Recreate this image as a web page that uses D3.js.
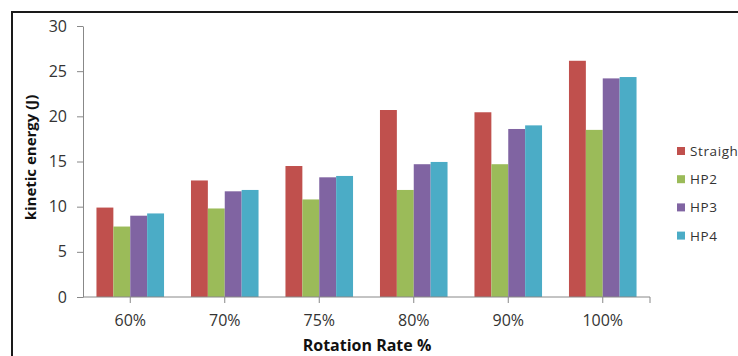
<!DOCTYPE html>
<html>
<head>
<meta charset="utf-8">
<script src="https://cdn.jsdelivr.net/npm/d3@7"></script>
<style>
  html, body { margin: 0; padding: 0; background: #fff; overflow: hidden; }
  svg { display: block; font-family: "Open Sans", "Liberation Sans", sans-serif; }
</style>
</head>
<body>
<svg id="chart" width="738" height="356"></svg>
<script>
// Kinetic energy per rotation rate, one bar per blade type
const categories = ["60%", "70%", "75%", "80%", "90%", "100%"];
const seriesNames = ["Straight", "HP2", "HP3", "HP4"];
const straight = [9.9, 12.9, 14.5, 20.7, 20.45, 26.15];
const hp2 = [7.8, 9.8, 10.8, 11.85, 14.7, 18.5];
const hp3 = [9.0, 11.7, 13.25, 14.7, 18.6, 24.2];
const hp4 = [9.25, 11.85, 13.4, 14.95, 19.0, 24.35];
const yTicks = [0, 5, 10, 15, 20, 25, 30];
const colors = ["#C0504D", "#9BBB59", "#8064A2", "#4BACC6"];

const seriesValues = [straight, hp2, hp3, hp4];
const rows = categories.map((c, i) => ({
  cat: c,
  vals: seriesNames.map((s, j) => ({ name: s, value: seriesValues[j][i], color: colors[j] }))
}));

const svg = d3.select("#chart");
const plot = { left: 83, right: 650, top: 26, bottom: 297 };

// outer frame
svg.append("rect")
  .attr("x", 12).attr("y", 12)
  .attr("width", 760).attr("height", 400)
  .attr("fill", "none").attr("stroke", "#1a1a1a").attr("stroke-width", 2);

const x0 = d3.scaleBand().domain(categories).range([plot.left, plot.right]).paddingInner(0.285).paddingOuter(0.1425);
const x1 = d3.scaleBand().domain(seriesNames).range([0, x0.bandwidth()]);
const y = d3.scaleLinear().domain([0, 30]).range([plot.bottom, plot.top]);

// bars
const g = svg.append("g");
g.selectAll("g.grp").data(rows).join("g")
  .attr("class", "grp")
  .attr("transform", d => `translate(${x0(d.cat)},0)`)
  .selectAll("rect").data(d => d.vals).join("rect")
  .attr("x", d => x1(d.name))
  .attr("width", x1.bandwidth())
  .attr("y", d => y(d.value))
  .attr("height", d => y(0) - y(d.value))
  .attr("fill", d => d.color);

// y axis
const yAxis = svg.append("g")
  .attr("transform", `translate(${plot.left},0)`)
  .call(d3.axisLeft(y).tickValues(yTicks).tickSize(6).tickPadding(10).tickSizeOuter(0));
yAxis.select(".domain").attr("stroke", "#888");
yAxis.selectAll(".tick line").attr("stroke", "#888");
yAxis.selectAll(".tick text").attr("fill", "#333").style("font-size", "16px")
  .style("font-family", "'Open Sans', sans-serif");

// x axis: ticks under each category plus the closing tick
const xCenters = categories.map(c => x0(c) + x0.bandwidth() / 2);
const xAxis = svg.append("g").attr("transform", `translate(0,${plot.bottom})`);
xAxis.append("line").attr("x1", plot.left).attr("x2", plot.right)
  .attr("stroke", "#888");
xAxis.selectAll("line.tk").data(xCenters.concat([plot.right])).join("line")
  .attr("class", "tk")
  .attr("x1", d => d).attr("x2", d => d).attr("y1", 0).attr("y2", 6)
  .attr("stroke", "#888");
xAxis.selectAll("text").data(categories).join("text")
  .attr("x", d => x0(d) + x0.bandwidth() / 2)
  .attr("y", 29)
  .attr("text-anchor", "middle")
  .attr("fill", "#333")
  .style("font-size", "16px")
  .text(d => d);

// axis titles
svg.append("text")
  .attr("transform", `translate(36,${(plot.top + plot.bottom) / 2 - 4}) rotate(-90)`)
  .attr("text-anchor", "middle")
  .attr("fill", "#111")
  .style("font-weight", "bold").style("font-size", "15px")
  .text("kinetic energy (J)");

svg.append("text")
  .attr("x", 367).attr("y", 351)
  .attr("text-anchor", "middle")
  .attr("fill", "#111")
  .style("font-weight", "bold").style("font-size", "16px")
  .text("Rotation Rate %");

// legend
const legend = svg.append("g").attr("transform", "translate(677,151)");
const li = legend.selectAll("g").data(seriesNames).join("g")
  .attr("transform", (d, i) => `translate(0,${i * 28.2})`);
li.append("rect").attr("x", 0).attr("y", -4).attr("width", 8).attr("height", 8)
  .attr("fill", (d, i) => colors[i]);
li.append("text").attr("x", 13).attr("y", 5)
  .attr("fill", "#333").style("font-size", "13.5px").style("letter-spacing", "0.6px")
  .text(d => d);
</script>
</body>
</html>
